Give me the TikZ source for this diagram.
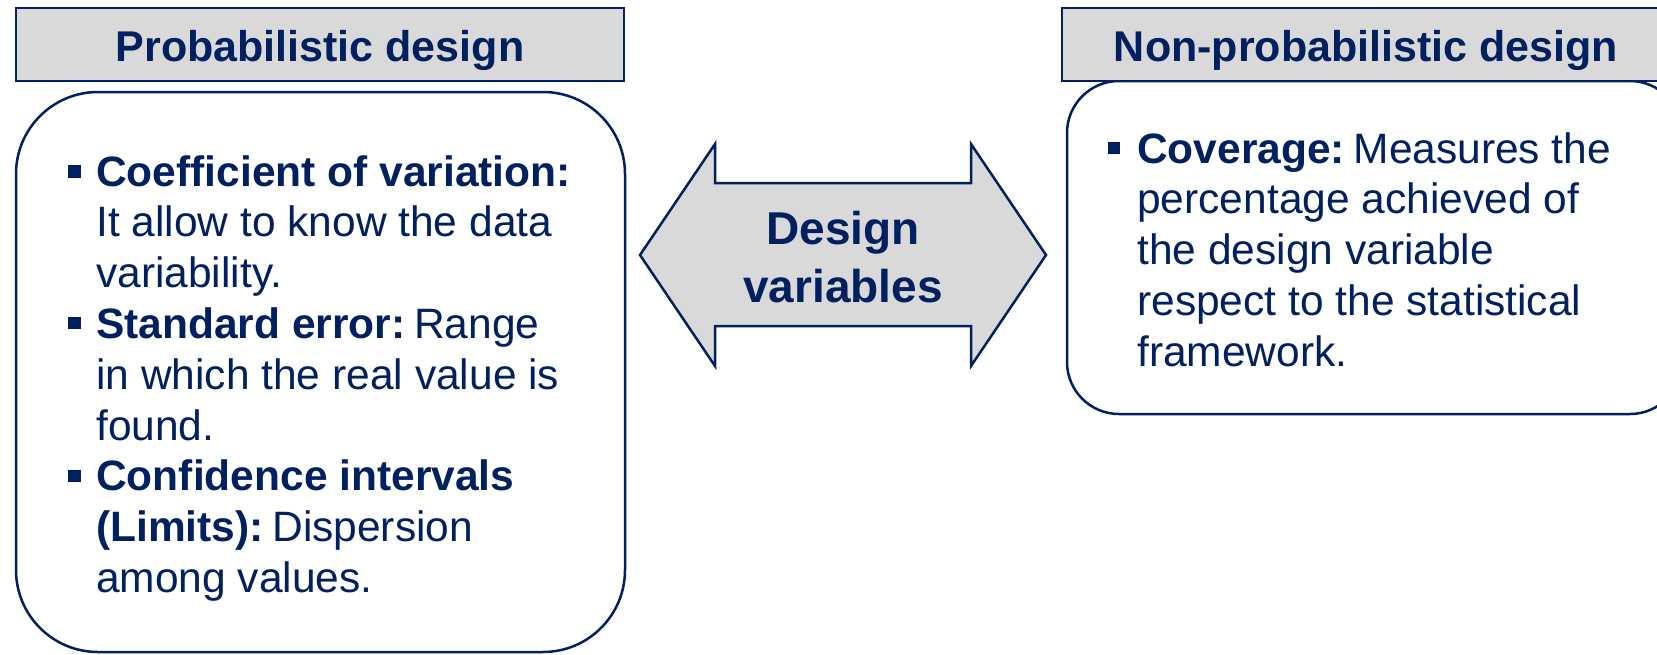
\documentclass[tikz,border=0pt]{standalone}
\usepackage{fontspec}
\setmainfont{Liberation Sans}
\definecolor{navyc}{HTML}{002060}
\definecolor{lgrayc}{HTML}{D9D9D9}
\begin{document}
\begin{tikzpicture}[x=1pt,y=-1pt,
  line width=2.5pt,
  hdr/.style={draw=navyc, fill=lgrayc, rectangle, minimum width=608pt, minimum height=73pt, inner sep=0pt, text height=34pt, text depth=0pt, text=navyc, font=\fontsize{43}{50}\selectfont\bfseries},
  rbox/.style={draw=navyc, fill=white, rectangle, inner sep=0pt},
  txt/.style={anchor=base west, inner sep=0pt, text=navyc, font=\fontsize{42.5}{51}\selectfont},
  bul/.style={fill=navyc, rectangle, minimum size=12.5pt, inner sep=0pt},
  arrtxt/.style={anchor=base, inner sep=0pt, text=navyc, font=\fontsize{46}{56}\selectfont\bfseries}]
\useasboundingbox (0,0) rectangle (1657,654);
\clip (0,0) rectangle (1657,654);

% left box and header
\node[rbox, rounded corners=82pt, minimum width=609pt, minimum height=560pt] (lbox) at (320.5,372) {};
\node[hdr] (lhdr) at (320,44.5) {Probabilistic design};

% right box and header
\node[rbox, rounded corners=52pt, minimum width=615pt, minimum height=333pt] (rbox) at (1374.5,247.5) {};
\node[hdr] (rhdr) at (1366,44.5) {Non-probabilistic design};

% double arrow
\draw[draw=navyc, fill=lgrayc, line join=miter]
  (640,255) -- (715,144) -- (715,183) -- (971,183) -- (971,144) -- (1046,255)
  -- (971,366) -- (971,326) -- (715,326) -- (715,366) -- cycle;
\node[arrtxt] (a1) at (843,244) {Design};
\node[arrtxt] (a2) at (843,302) {variables};

% left list
\node[bul] (lb1) at (74.5,171.5) {};
\node[txt] (l1) at (95,186) {\textbf{Coefficient of variation:}};
\node[txt] (l2) at (95,236.8) {It allow to know the data};
\node[txt] (l3) at (95,287.6) {variability.};
\node[bul] (lb2) at (74.5,323) {};
\node[txt] (l4) at (95,338.4) {\textbf{Standard error:}\hspace{0.2em}Range};
\node[txt] (l5) at (95,389.2) {in which the real value is};
\node[txt] (l6) at (95,440) {found.};
\node[bul] (lb3) at (74.5,476) {};
\node[txt] (l7) at (95,490.8) {\textbf{Confidence intervals}};
\node[txt] (l8) at (95,541.6) {\textbf{(Limits):}\hspace{0.2em}Dispersion};
\node[txt] (l9) at (95,592.4) {among values.};

% right list
\node[bul] (rb1) at (1114,148) {};
\node[txt] (r1) at (1136,163) {\textbf{Coverage:}\hspace{0.2em}Measures the};
\node[txt] (r2) at (1136,213.8) {percentage achieved of};
\node[txt] (r3) at (1136,264.6) {the design variable};
\node[txt] (r4) at (1136,315.4) {respect to the statistical};
\node[txt] (r5) at (1136,366.2) {framework.};
\end{tikzpicture}
\end{document}
